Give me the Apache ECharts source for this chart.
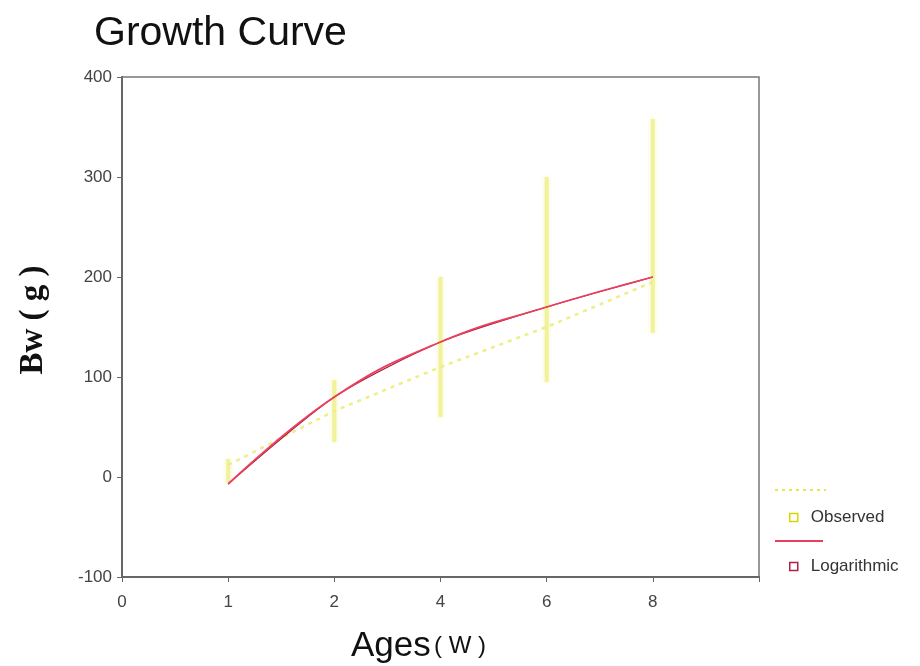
<!DOCTYPE html>
<html>
<head>
<meta charset="utf-8">
<script src="https://cdn.jsdelivr.net/npm/echarts@6/dist/echarts.min.js"></script>
<style>
  html, body { margin: 0; padding: 0; background: #fff; }
  #growth { width: 920px; height: 666px; }
</style>
</head>
<body>
<div id="growth"></div>
<script>
// ages on the x axis (weeks), last slot is just padding to the frame
var ages = ['0', '1', '2', '4', '6', '8', ''];
// observed means and spread
var obsAges = ['1', '2', '4', '6', '8'];
var obsMean = [12, 66, 110, 150, 195];
var obsLow = [-5, 35, 60, 95, 144];
var obsHigh = [18, 97, 200, 300, 358];
// logarithmic fit
var logFit = [-7, 80, 135, 170, 200];
var yTicks = [-100, 0, 100, 200, 300, 400];

var chart = echarts.init(document.getElementById('growth'));

var meanData = obsAges.map(function (a, i) { return [a, obsMean[i]]; });
var rangeData = obsAges.map(function (a, i) { return [a, obsLow[i], obsHigh[i]]; });
var fitData = obsAges.map(function (a, i) { return [a, logFit[i]]; });

var option = {
  animation: false,
  textStyle: { fontFamily: 'Liberation Sans' },
  title: {
    text: 'Growth Curve',
    left: 89, top: 8,
    textStyle: { fontSize: 41, fontWeight: 'normal', color: '#111', fontFamily: 'Liberation Sans' }
  },
  grid: {
    left: 122, right: 161, top: 77, bottom: 89,
    outerBoundsMode: 'none',
    containLabel: false,
    show: true, borderColor: '#777', borderWidth: 1.5, backgroundColor: '#fff'
  },
  legend: {
    orient: 'vertical',
    left: 784, top: 504,
    itemWidth: 8, itemHeight: 8, itemGap: 32,
    textStyle: { fontSize: 17, color: '#333', padding: [0, 0, 0, 8] },
    data: [
      { name: 'Observed', icon: 'rect', itemStyle: { color: '#fff', borderColor: '#d6d600', borderWidth: 1.5 } },
      { name: 'Logarithmic', icon: 'rect', itemStyle: { color: '#fff', borderColor: '#b0204a', borderWidth: 1.5 } }
    ]
  },
  graphic: [
    { type: 'line', shape: { x1: 775, y1: 490, x2: 826, y2: 490 },
      style: { stroke: '#e6e650', lineWidth: 2, lineDash: [3, 4] } },
    { type: 'line', shape: { x1: 775, y1: 541, x2: 823, y2: 541 },
      style: { stroke: '#e8405a', lineWidth: 2 } }
  ],
  xAxis: {
    type: 'category',
    data: ages,
    boundaryGap: false,
    name: '{a|Ages} {b|( W )}',
    nameLocation: 'middle',
    nameGap: 52,
    nameTextStyle: {
      padding: [0, 44, 0, 0],
      rich: {
        a: { fontSize: 35, color: '#111', fontFamily: 'Liberation Sans' },
        b: { fontSize: 24, color: '#111', fontFamily: 'Liberation Sans' }
      }
    },
    axisLine: { onZero: false, lineStyle: { color: '#666', width: 2 } },
    axisTick: { length: 5, lineStyle: { color: '#666' } },
    axisLabel: { fontSize: 17, color: '#444', margin: 17 },
    splitLine: { show: false }
  },
  yAxis: {
    type: 'value',
    min: yTicks[0], max: yTicks[yTicks.length - 1], interval: 100,
    name: 'Bw ( g )',
    nameLocation: 'middle',
    nameGap: 72,
    nameTextStyle: { fontSize: 33, fontWeight: 'bold', color: '#111', fontFamily: 'Liberation Serif', padding: [0, 0, 0, 14] },
    axisLine: { show: true, lineStyle: { color: '#666', width: 2 } },
    axisTick: { show: true, length: 5, lineStyle: { color: '#666' } },
    axisLabel: { fontSize: 17, color: '#444', margin: 10 },
    splitLine: { show: false }
  },
  series: [
    {
      name: 'Observed range',
      type: 'custom',
      data: rangeData,
      encode: { x: 0, y: [1, 2] },
      z: 1,
      renderItem: function (params, api) {
        var x = api.value(0);
        var lo = api.coord([x, api.value(1)]);
        var hi = api.coord([x, api.value(2)]);
        return {
          type: 'rect',
          shape: { x: lo[0] - 2, y: hi[1], width: 4, height: lo[1] - hi[1] },
          style: { fill: '#f2f29a', shadowBlur: 4, shadowColor: 'rgba(240,240,150,0.6)' }
        };
      }
    },
    {
      name: 'Observed',
      type: 'line',
      data: meanData,
      symbol: 'none',
      z: 2,
      lineStyle: { color: '#eeee88', width: 2.5, type: [4, 5] }
    },
    {
      name: 'Logarithmic curve',
      type: 'line',
      data: fitData,
      symbol: 'none',
      smooth: 0.25,
      z: 3,
      lineStyle: { color: '#9a1838', width: 1.2 }
    },
    {
      name: 'Logarithmic',
      type: 'line',
      data: fitData,
      symbol: 'none',
      smooth: 0.45,
      z: 4,
      lineStyle: { color: '#ec3f60', width: 1.8 }
    }
  ]
};

chart.setOption(option);
</script>
</body>
</html>
